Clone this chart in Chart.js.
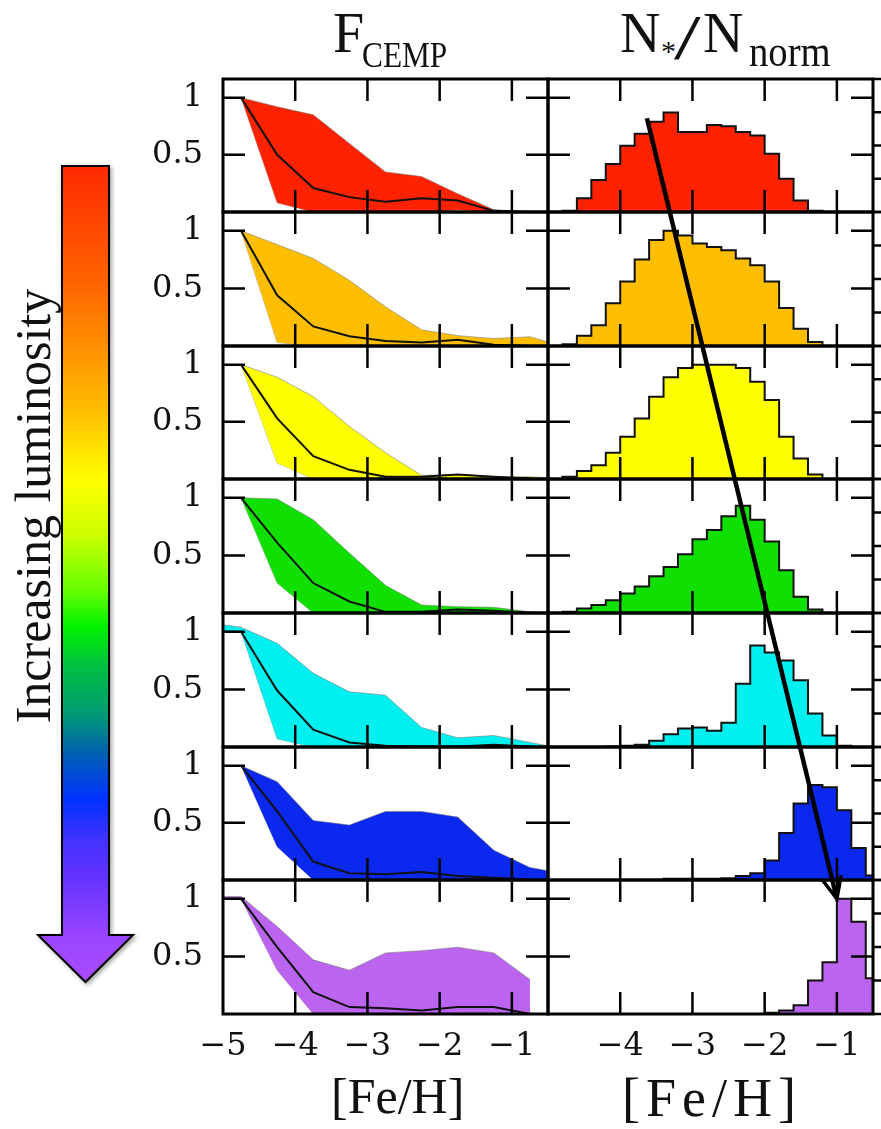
<!DOCTYPE html>
<html>
<head>
<meta charset="utf-8">
<script src="https://cdn.jsdelivr.net/npm/chart.js@4.4.1/dist/chart.umd.min.js"></script>
<style>
  html, body { margin: 0; padding: 0; background: #fff; }
  #page { position: relative; width: 881px; height: 1129px; overflow: hidden; background: #fff; }
  #page canvas { position: absolute; }
  .txt { position: absolute; font-family: "Liberation Serif", "Times New Roman", serif; color: #111; white-space: nowrap; line-height: 1; }
  #overlay { z-index: 5; pointer-events: none; }
</style>
</head>
<body>
<div id="page">
  <svg width="881" height="1129" style="position:absolute;left:0;top:0">
    <defs>
      <linearGradient id="lumGrad" x1="0" y1="166" x2="0" y2="982" gradientUnits="userSpaceOnUse">
        <stop offset="0" stop-color="#ff2a00"/>
        <stop offset="0.136" stop-color="#ff6000"/>
        <stop offset="0.237" stop-color="#ff9900"/>
        <stop offset="0.304" stop-color="#ffc000"/>
        <stop offset="0.385" stop-color="#ffff00"/>
        <stop offset="0.452" stop-color="#ccff00"/>
        <stop offset="0.52" stop-color="#66ff00"/>
        <stop offset="0.566" stop-color="#00f000"/>
        <stop offset="0.614" stop-color="#00c044"/>
        <stop offset="0.674" stop-color="#009977"/>
        <stop offset="0.714" stop-color="#0066aa"/>
        <stop offset="0.775" stop-color="#0033ff"/>
        <stop offset="0.828" stop-color="#4433ff"/>
        <stop offset="0.875" stop-color="#6633ff"/>
        <stop offset="0.942" stop-color="#9944ff"/>
        <stop offset="1" stop-color="#aa4cff"/>
      </linearGradient>
      <filter id="soft" x="-20%" y="-5%" width="140%" height="110%">
        <feDropShadow dx="2" dy="2" stdDeviation="2" flood-opacity="0.35"/>
      </filter>
    </defs>
    <polygon points="62,166 109,166 109,935 133,935 85.5,982 38,935 62,935"
             fill="url(#lumGrad)" stroke="#000" stroke-width="2" filter="url(#soft)"/>
  </svg>

  <div class="txt" style="left:33px;top:506px;font-size:50px;transform:translate(-50%,-50%) rotate(-90deg);">Increasing luminosity</div>

  <!-- column titles -->
  <div class="txt" style="left:333px;top:5px;font-size:56px;">F</div>
  <div class="txt" style="left:362px;top:37px;font-size:36px;transform:scaleX(0.87);transform-origin:left;">CEMP</div>
  <div class="txt" style="left:620px;top:5px;font-size:56px;">N</div>
  <div class="txt" style="left:661px;top:36px;font-size:30px;">*</div>
  <div class="txt" style="left:674px;top:6px;font-size:64px;transform:scaleX(1.5);transform-origin:left;">/</div>
  <div class="txt" style="left:703px;top:5px;font-size:56px;">N</div>
  <div class="txt" style="left:749px;top:30px;font-size:44px;transform:scaleX(0.88);transform-origin:left;">norm</div>

  <!-- axis titles -->
  <div class="txt" style="left:331px;top:1071px;font-size:50px;">[Fe/H]</div>
  <div class="txt" style="left:622px;top:1071px;font-size:54px;letter-spacing:6px;">[Fe/H]</div>

  <canvas id="overlay" width="881" height="1129" style="left:0;top:0"></canvas>
</div>

<script>
// one colour per luminosity bin, faintest at the top
const rowColors = ['#ff2200', '#ffbf00', '#ffff00', '#10e000', '#00f0f0', '#0a28ee', '#ba64f0'];

// [Fe/H] bin centres of the CEMP fraction curves
const fehGrid = [-5, -4.75, -4.25, -3.75, -3.25, -2.75, -2.25, -1.75, -1.25, -0.75, -0.5];

const fcempUpper = [
  [null, 1.00, 0.92, 0.85, 0.60, 0.35, 0.31, 0.16, 0.02, 0.00, null],
  [null, 1.00, 0.88, 0.76, 0.57, 0.34, 0.14, 0.09, 0.065, 0.08, 0.035],
  [null, 1.00, 0.89, 0.72, 0.46, 0.23, 0.03, 0.04, 0.02, 0.02, 0.01],
  [null, 1.00, 0.99, 0.81, 0.52, 0.24, 0.07, 0.055, 0.05, 0.01, 0.00],
  [1.06, 1.04, 0.90, 0.64, 0.48, 0.45, 0.17, 0.08, 0.10, 0.04, 0.01],
  [null, 1.00, 0.86, 0.52, 0.48, 0.60, 0.60, 0.55, 0.26, 0.11, 0.08],
  [1.02, 1.02, 0.76, 0.47, 0.38, 0.53, 0.55, 0.58, 0.53, 0.30, null]
];
const fcempLower = [
  [null, 1.00, 0.08, 0, 0, 0, 0, 0.02, 0, 0, null],
  [null, 1.00, 0.03, 0, 0, 0, 0, 0, 0, 0, 0],
  [null, 1.00, 0.14, 0, 0, 0, 0, 0, 0, 0, 0],
  [null, 1.00, 0.26, 0, 0, 0, 0, 0, 0, 0, 0],
  [1.00, 1.00, 0.07, 0, 0, 0, 0, 0, 0, 0, 0],
  [null, 1.00, 0.29, 0, 0, 0, 0, 0, 0, 0, 0],
  [1.00, 1.00, 0.38, 0, 0, 0, 0, 0, 0, 0, null]
];
const fcempMedian = [
  [null, 1.00, 0.50, 0.21, 0.13, 0.09, 0.12, 0.10, 0.01, 0.00, null],
  [null, 1.00, 0.44, 0.17, 0.085, 0.044, 0.03, 0.055, 0.01, 0.00, null],
  [null, 1.00, 0.53, 0.20, 0.08, 0.02, 0.02, 0.04, 0.02, 0.005, null],
  [null, 1.00, 0.61, 0.26, 0.10, 0.01, 0.01, 0.03, 0.02, 0.00, null],
  [1.00, 1.00, 0.49, 0.15, 0.04, 0.01, 0.005, 0.005, 0.02, 0.005, null],
  [null, 1.00, 0.60, 0.16, 0.06, 0.05, 0.07, 0.035, 0.02, 0.005, null],
  [1.00, 1.00, 0.58, 0.19, 0.06, 0.05, 0.03, 0.06, 0.06, 0.00, null]
];

// metallicity distribution, 0.2 dex bins (left edges)
const binLeft = [-4.8, -4.6, -4.4, -4.2, -4.0, -3.8, -3.6, -3.4, -3.2, -3.0, -2.8,
                 -2.6, -2.4, -2.2, -2.0, -1.8, -1.6, -1.4, -1.2, -1.0, -0.8, -0.6];
const binWidth = 0.2;
const histHeights = [
  [0.01, 0.12, 0.28, 0.42, 0.58, 0.685, 0.79, 0.87, 0.70, 0.70, 0.76, 0.75, 0.70, 0.67, 0.51, 0.29, 0.10, 0.01, 0, 0, 0, 0],
  [0.015, 0.09, 0.18, 0.37, 0.56, 0.75, 0.92, 1.00, 0.96, 0.89, 0.86, 0.83, 0.76, 0.70, 0.56, 0.33, 0.15, 0.035, 0, 0, 0, 0],
  [0.02, 0.07, 0.12, 0.23, 0.37, 0.53, 0.72, 0.89, 0.97, 1.00, 1.00, 1.00, 0.97, 0.85, 0.69, 0.37, 0.18, 0.04, 0, 0, 0, 0],
  [0.01, 0.04, 0.07, 0.11, 0.17, 0.23, 0.32, 0.40, 0.51, 0.64, 0.72, 0.84, 0.93, 0.81, 0.62, 0.37, 0.14, 0.03, 0, 0, 0, 0],
  [0, 0, 0, 0.005, 0.01, 0.02, 0.055, 0.11, 0.16, 0.17, 0.14, 0.21, 0.55, 0.88, 0.82, 0.75, 0.58, 0.29, 0.10, 0.01, 0, 0],
  [0, 0, 0, 0, 0, 0, 0, 0.01, 0.01, 0.01, 0.01, 0.015, 0.035, 0.06, 0.17, 0.41, 0.67, 0.83, 0.81, 0.61, 0.28, 0.04],
  [0, 0, 0, 0, 0, 0, 0, 0, 0, 0, 0, 0, 0, 0, 0.01, 0.03, 0.075, 0.29, 0.45, 1.00, 0.80, 0.31]
];

// ticks and axis labels
const xTickValues = [-4, -3, -2, -1];
const yTickValues = [0.5, 1];
const xLabelsLeft = [-5, -4, -3, -2, -1];
const xLabelsRight = [-4, -3, -2, -1];

// peak-shift arrow: from the top histogram to the bottom one
const arrowFrom = [-3.63, 0.82];
const arrowTo = [-1.0, 1.0];

// panel geometry
const X_MIN = -5, X_MAX = -0.5, Y_MAX = 1.163;
const PLOT_LEFT = 223, COL2_LEFT = 548, PLOT_W = 325;
const PLOT_TOP = 78.5, ROW_H = 133.6;
const PAD = 4, STUB_PAD = 12, YLAB_W = 100, XLAB_H = 60, TICK_LEN = 22;

const fmtTick = v => (v < 0 ? '\u2212' + Math.abs(v) : String(v));

// frame and inward ticks on every side
const panelFrame = {
  id: 'panelFrame',
  afterDatasetsDraw(chart, args, opts) {
    const {ctx, chartArea: a, scales: {x, y}} = chart;
    ctx.save();
    ctx.strokeStyle = '#000';
    ctx.lineWidth = 2.5;
    ctx.beginPath();
    xTickValues.forEach(v => {
      const px = x.getPixelForValue(v);
      ctx.moveTo(px, a.top); ctx.lineTo(px, a.top + TICK_LEN);
      ctx.moveTo(px, a.bottom); ctx.lineTo(px, a.bottom - TICK_LEN);
    });
    yTickValues.forEach(v => {
      const py = y.getPixelForValue(v);
      ctx.moveTo(a.left, py); ctx.lineTo(a.left + TICK_LEN, py);
      ctx.moveTo(a.right, py); ctx.lineTo(a.right - TICK_LEN, py);
    });
    if (opts.stubs) {
      // short marks of the neighbouring (cut off) panel
      for (let k = 0; k <= 4; k++) {
        const py = a.top + a.height * k / 4;
        ctx.moveTo(a.right, py); ctx.lineTo(a.right + 9, py);
      }
    }
    ctx.stroke();
    ctx.lineWidth = 3;
    ctx.strokeRect(a.left, a.top, a.width, a.height);
    ctx.restore();
  }
};

function seriesPoints(values) {
  const pts = [];
  values.forEach((v, i) => { if (v !== null) pts.push({x: fehGrid[i], y: v}); });
  return pts;
}

function histPoints(heights) {
  const pts = [{x: binLeft[0], y: 0}];
  heights.forEach((h, i) => {
    pts.push({x: binLeft[i], y: h});
    pts.push({x: binLeft[i] + binWidth, y: h});
  });
  pts.push({x: binLeft[binLeft.length - 1] + binWidth, y: 0});
  return pts;
}

function panelConfig(datasets, o) {
  const tickFont = {family: 'DejaVu Serif', size: 32};
  return {
    type: 'line',
    data: {datasets},
    options: {
      responsive: false,
      animation: false,
      events: [],
      layout: {padding: o.padding},
      elements: {point: {radius: 0}, line: {tension: 0}},
      plugins: {legend: {display: false}, tooltip: {enabled: false}, panelFrame: {stubs: o.stubs}},
      scales: {
        x: {
          type: 'linear', min: X_MIN, max: X_MAX,
          display: o.showX,
          afterBuildTicks: s => { s.ticks = o.xLabels.map(v => ({value: v})); },
          afterFit: s => {
            s.paddingLeft = 0; s.paddingRight = 0;
            if (o.showX) s.height = XLAB_H;
          },
          grid: {display: false, drawTicks: false},
          border: {display: false},
          ticks: {padding: 13, color: '#111', font: tickFont, maxRotation: 0, autoSkip: false, callback: fmtTick}
        },
        y: {
          type: 'linear', min: 0, max: Y_MAX,
          display: o.showY,
          afterBuildTicks: s => { s.ticks = yTickValues.map(v => ({value: v})); },
          afterFit: s => {
            // labels sit well inside the panel, no extra room needed
            s.paddingTop = 0; s.paddingBottom = 0;
            if (o.showY) s.width = YLAB_W;
          },
          grid: {display: false, drawTicks: false},
          border: {display: false},
          ticks: {padding: 20, color: '#111', font: tickFont, callback: fmtTick}
        }
      }
    },
    plugins: [panelFrame]
  };
}

function addCanvas(left, top, w, h) {
  const c = document.createElement('canvas');
  c.width = w; c.height = h;
  c.style.left = left + 'px';
  c.style.top = top + 'px';
  document.getElementById('page').insertBefore(c, document.getElementById('overlay'));
  return c;
}

const rightCharts = [];

for (let r = 0; r < 7; r++) {
  const top = Math.round(PLOT_TOP + r * ROW_H);
  const bottom = Math.round(PLOT_TOP + (r + 1) * ROW_H);
  const h = bottom - top;
  const isBottom = r === 6;
  const extraBottom = isBottom ? XLAB_H : PAD;
  const color = rowColors[r];

  // left: CEMP fraction band with its median
  const leftCanvas = addCanvas(PLOT_LEFT - YLAB_W, top - PAD, YLAB_W + PLOT_W + PAD, PAD + h + extraBottom);
  new Chart(leftCanvas, panelConfig([
    {data: seriesPoints(fcempMedian[r]), borderColor: '#111', borderWidth: 2, fill: false},
    {data: seriesPoints(fcempUpper[r]), borderColor: 'rgba(120,120,120,0.55)', borderWidth: 1,
     backgroundColor: color, fill: '+1'},
    {data: seriesPoints(fcempLower[r]), borderColor: 'rgba(120,120,120,0.55)', borderWidth: 1, fill: false}
  ], {
    padding: {left: 0, right: PAD, top: PAD, bottom: isBottom ? 0 : PAD},
    showX: isBottom, showY: true, xLabels: xLabelsLeft, stubs: false
  }));

  // right: normalised metallicity histogram
  const rightCanvas = addCanvas(COL2_LEFT - PAD, top - PAD, PAD + PLOT_W + STUB_PAD, PAD + h + extraBottom);
  rightCharts.push(new Chart(rightCanvas, panelConfig([
    {data: histPoints(histHeights[r]), borderColor: '#111', borderWidth: 2,
     backgroundColor: color, fill: 'origin'}
  ], {
    padding: {left: PAD, right: STUB_PAD, top: PAD, bottom: isBottom ? 0 : PAD},
    showX: isBottom, showY: false, xLabels: xLabelsRight, stubs: true
  })));
}

// black arrow following the histogram peak down the luminosity sequence
function toPage(chart, pt) {
  return {
    x: chart.canvas.offsetLeft + chart.scales.x.getPixelForValue(pt[0]),
    y: chart.canvas.offsetTop + chart.scales.y.getPixelForValue(pt[1])
  };
}
const p0 = toPage(rightCharts[0], arrowFrom);
const p1 = toPage(rightCharts[6], arrowTo);
const octx = document.getElementById('overlay').getContext('2d');
octx.strokeStyle = '#000';
octx.lineWidth = 4.5;
octx.beginPath();
octx.moveTo(p0.x, p0.y);
octx.lineTo(p1.x, p1.y);
octx.stroke();
const ang = Math.atan2(p1.y - p0.y, p1.x - p0.x);
const wing = 24, spread = 0.42;
octx.lineWidth = 3.5;
octx.lineJoin = 'miter';
octx.beginPath();
octx.moveTo(p1.x - wing * Math.cos(ang - spread), p1.y - wing * Math.sin(ang - spread));
octx.lineTo(p1.x, p1.y);
octx.lineTo(p1.x - wing * Math.cos(ang + spread), p1.y - wing * Math.sin(ang + spread));
octx.stroke();
</script>
</body>
</html>
